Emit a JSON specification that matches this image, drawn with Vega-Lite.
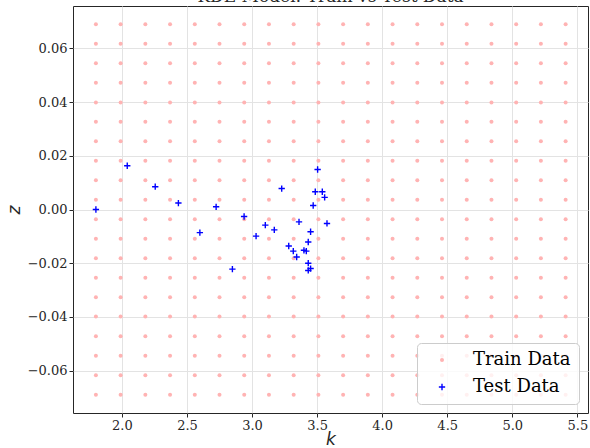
{
  "$schema": "https://vega.github.io/schema/vega-lite/v6.json",
  "width": 515,
  "height": 407,
  "autosize": {"type": "none"},
  "padding": {"left": 73, "top": 6, "right": 2, "bottom": 35},
  "background": "white",
  "title": {
    "text": "KDE Model: Train vs Test Data",
    "font": "DejaVu Serif",
    "fontSize": 17,
    "fontWeight": "normal",
    "color": "#262626",
    "anchor": "middle",
    "offset": 0
  },
  "config": {
    "view": {"stroke": "#262626", "strokeWidth": 1},
    "axis": {
      "titleFont": "DejaVu Sans",
      "titleFontStyle": "italic",
      "titleFontWeight": "normal",
      "titleFontSize": 17,
      "titleColor": "#262626",
      "domain": false,
      "tickColor": "#262626",
      "tickSize": 4,
      "labelPadding": 2,
      "gridColor": "#e3e3e3",
      "gridWidth": 1
    },
    "legend": {
      "orient": "bottom-right",
      "offset": 9,
      "padding": 8,
      "fillColor": "rgba(255,255,255,0.8)",
      "strokeColor": "#cccccc",
      "cornerRadius": 4,
      "labelFont": "DejaVu Serif",
      "labelFontSize": 18,
      "labelColor": "#000000",
      "symbolOffset": 8,
      "labelOffset": 22,
      "rowPadding": 9,
      "title": null
    }
  },
  "data": {
    "values": [
      {"k":1.8,"z":-0.069,"set":"Train Data"},{"k":1.8,"z":-0.0617,"set":"Train Data"},{"k":1.8,"z":-0.0545,"set":"Train Data"},{"k":1.8,"z":-0.0472,"set":"Train Data"},{"k":1.8,"z":-0.0399,"set":"Train Data"},{"k":1.8,"z":-0.0327,"set":"Train Data"},{"k":1.8,"z":-0.0254,"set":"Train Data"},{"k":1.8,"z":-0.0182,"set":"Train Data"},{"k":1.8,"z":-0.0109,"set":"Train Data"},{"k":1.8,"z":-0.0036,"set":"Train Data"},{"k":1.8,"z":0.0036,"set":"Train Data"},{"k":1.8,"z":0.0109,"set":"Train Data"},{"k":1.8,"z":0.0182,"set":"Train Data"},{"k":1.8,"z":0.0254,"set":"Train Data"},{"k":1.8,"z":0.0327,"set":"Train Data"},{"k":1.8,"z":0.0399,"set":"Train Data"},{"k":1.8,"z":0.0472,"set":"Train Data"},{"k":1.8,"z":0.0545,"set":"Train Data"},{"k":1.8,"z":0.0617,"set":"Train Data"},{"k":1.8,"z":0.069,"set":"Train Data"},
      {"k":1.99,"z":-0.069,"set":"Train Data"},{"k":1.99,"z":-0.0617,"set":"Train Data"},{"k":1.99,"z":-0.0545,"set":"Train Data"},{"k":1.99,"z":-0.0472,"set":"Train Data"},{"k":1.99,"z":-0.0399,"set":"Train Data"},{"k":1.99,"z":-0.0327,"set":"Train Data"},{"k":1.99,"z":-0.0254,"set":"Train Data"},{"k":1.99,"z":-0.0182,"set":"Train Data"},{"k":1.99,"z":-0.0109,"set":"Train Data"},{"k":1.99,"z":-0.0036,"set":"Train Data"},{"k":1.99,"z":0.0036,"set":"Train Data"},{"k":1.99,"z":0.0109,"set":"Train Data"},{"k":1.99,"z":0.0182,"set":"Train Data"},{"k":1.99,"z":0.0254,"set":"Train Data"},{"k":1.99,"z":0.0327,"set":"Train Data"},{"k":1.99,"z":0.0399,"set":"Train Data"},{"k":1.99,"z":0.0472,"set":"Train Data"},{"k":1.99,"z":0.0545,"set":"Train Data"},{"k":1.99,"z":0.0617,"set":"Train Data"},{"k":1.99,"z":0.069,"set":"Train Data"},
      {"k":2.18,"z":-0.069,"set":"Train Data"},{"k":2.18,"z":-0.0617,"set":"Train Data"},{"k":2.18,"z":-0.0545,"set":"Train Data"},{"k":2.18,"z":-0.0472,"set":"Train Data"},{"k":2.18,"z":-0.0399,"set":"Train Data"},{"k":2.18,"z":-0.0327,"set":"Train Data"},{"k":2.18,"z":-0.0254,"set":"Train Data"},{"k":2.18,"z":-0.0182,"set":"Train Data"},{"k":2.18,"z":-0.0109,"set":"Train Data"},{"k":2.18,"z":-0.0036,"set":"Train Data"},{"k":2.18,"z":0.0036,"set":"Train Data"},{"k":2.18,"z":0.0109,"set":"Train Data"},{"k":2.18,"z":0.0182,"set":"Train Data"},{"k":2.18,"z":0.0254,"set":"Train Data"},{"k":2.18,"z":0.0327,"set":"Train Data"},{"k":2.18,"z":0.0399,"set":"Train Data"},{"k":2.18,"z":0.0472,"set":"Train Data"},{"k":2.18,"z":0.0545,"set":"Train Data"},{"k":2.18,"z":0.0617,"set":"Train Data"},{"k":2.18,"z":0.069,"set":"Train Data"},
      {"k":2.37,"z":-0.069,"set":"Train Data"},{"k":2.37,"z":-0.0617,"set":"Train Data"},{"k":2.37,"z":-0.0545,"set":"Train Data"},{"k":2.37,"z":-0.0472,"set":"Train Data"},{"k":2.37,"z":-0.0399,"set":"Train Data"},{"k":2.37,"z":-0.0327,"set":"Train Data"},{"k":2.37,"z":-0.0254,"set":"Train Data"},{"k":2.37,"z":-0.0182,"set":"Train Data"},{"k":2.37,"z":-0.0109,"set":"Train Data"},{"k":2.37,"z":-0.0036,"set":"Train Data"},{"k":2.37,"z":0.0036,"set":"Train Data"},{"k":2.37,"z":0.0109,"set":"Train Data"},{"k":2.37,"z":0.0182,"set":"Train Data"},{"k":2.37,"z":0.0254,"set":"Train Data"},{"k":2.37,"z":0.0327,"set":"Train Data"},{"k":2.37,"z":0.0399,"set":"Train Data"},{"k":2.37,"z":0.0472,"set":"Train Data"},{"k":2.37,"z":0.0545,"set":"Train Data"},{"k":2.37,"z":0.0617,"set":"Train Data"},{"k":2.37,"z":0.069,"set":"Train Data"},
      {"k":2.56,"z":-0.069,"set":"Train Data"},{"k":2.56,"z":-0.0617,"set":"Train Data"},{"k":2.56,"z":-0.0545,"set":"Train Data"},{"k":2.56,"z":-0.0472,"set":"Train Data"},{"k":2.56,"z":-0.0399,"set":"Train Data"},{"k":2.56,"z":-0.0327,"set":"Train Data"},{"k":2.56,"z":-0.0254,"set":"Train Data"},{"k":2.56,"z":-0.0182,"set":"Train Data"},{"k":2.56,"z":-0.0109,"set":"Train Data"},{"k":2.56,"z":-0.0036,"set":"Train Data"},{"k":2.56,"z":0.0036,"set":"Train Data"},{"k":2.56,"z":0.0109,"set":"Train Data"},{"k":2.56,"z":0.0182,"set":"Train Data"},{"k":2.56,"z":0.0254,"set":"Train Data"},{"k":2.56,"z":0.0327,"set":"Train Data"},{"k":2.56,"z":0.0399,"set":"Train Data"},{"k":2.56,"z":0.0472,"set":"Train Data"},{"k":2.56,"z":0.0545,"set":"Train Data"},{"k":2.56,"z":0.0617,"set":"Train Data"},{"k":2.56,"z":0.069,"set":"Train Data"},
      {"k":2.75,"z":-0.069,"set":"Train Data"},{"k":2.75,"z":-0.0617,"set":"Train Data"},{"k":2.75,"z":-0.0545,"set":"Train Data"},{"k":2.75,"z":-0.0472,"set":"Train Data"},{"k":2.75,"z":-0.0399,"set":"Train Data"},{"k":2.75,"z":-0.0327,"set":"Train Data"},{"k":2.75,"z":-0.0254,"set":"Train Data"},{"k":2.75,"z":-0.0182,"set":"Train Data"},{"k":2.75,"z":-0.0109,"set":"Train Data"},{"k":2.75,"z":-0.0036,"set":"Train Data"},{"k":2.75,"z":0.0036,"set":"Train Data"},{"k":2.75,"z":0.0109,"set":"Train Data"},{"k":2.75,"z":0.0182,"set":"Train Data"},{"k":2.75,"z":0.0254,"set":"Train Data"},{"k":2.75,"z":0.0327,"set":"Train Data"},{"k":2.75,"z":0.0399,"set":"Train Data"},{"k":2.75,"z":0.0472,"set":"Train Data"},{"k":2.75,"z":0.0545,"set":"Train Data"},{"k":2.75,"z":0.0617,"set":"Train Data"},{"k":2.75,"z":0.069,"set":"Train Data"},
      {"k":2.94,"z":-0.069,"set":"Train Data"},{"k":2.94,"z":-0.0617,"set":"Train Data"},{"k":2.94,"z":-0.0545,"set":"Train Data"},{"k":2.94,"z":-0.0472,"set":"Train Data"},{"k":2.94,"z":-0.0399,"set":"Train Data"},{"k":2.94,"z":-0.0327,"set":"Train Data"},{"k":2.94,"z":-0.0254,"set":"Train Data"},{"k":2.94,"z":-0.0182,"set":"Train Data"},{"k":2.94,"z":-0.0109,"set":"Train Data"},{"k":2.94,"z":-0.0036,"set":"Train Data"},{"k":2.94,"z":0.0036,"set":"Train Data"},{"k":2.94,"z":0.0109,"set":"Train Data"},{"k":2.94,"z":0.0182,"set":"Train Data"},{"k":2.94,"z":0.0254,"set":"Train Data"},{"k":2.94,"z":0.0327,"set":"Train Data"},{"k":2.94,"z":0.0399,"set":"Train Data"},{"k":2.94,"z":0.0472,"set":"Train Data"},{"k":2.94,"z":0.0545,"set":"Train Data"},{"k":2.94,"z":0.0617,"set":"Train Data"},{"k":2.94,"z":0.069,"set":"Train Data"},
      {"k":3.13,"z":-0.069,"set":"Train Data"},{"k":3.13,"z":-0.0617,"set":"Train Data"},{"k":3.13,"z":-0.0545,"set":"Train Data"},{"k":3.13,"z":-0.0472,"set":"Train Data"},{"k":3.13,"z":-0.0399,"set":"Train Data"},{"k":3.13,"z":-0.0327,"set":"Train Data"},{"k":3.13,"z":-0.0254,"set":"Train Data"},{"k":3.13,"z":-0.0182,"set":"Train Data"},{"k":3.13,"z":-0.0109,"set":"Train Data"},{"k":3.13,"z":-0.0036,"set":"Train Data"},{"k":3.13,"z":0.0036,"set":"Train Data"},{"k":3.13,"z":0.0109,"set":"Train Data"},{"k":3.13,"z":0.0182,"set":"Train Data"},{"k":3.13,"z":0.0254,"set":"Train Data"},{"k":3.13,"z":0.0327,"set":"Train Data"},{"k":3.13,"z":0.0399,"set":"Train Data"},{"k":3.13,"z":0.0472,"set":"Train Data"},{"k":3.13,"z":0.0545,"set":"Train Data"},{"k":3.13,"z":0.0617,"set":"Train Data"},{"k":3.13,"z":0.069,"set":"Train Data"},
      {"k":3.32,"z":-0.069,"set":"Train Data"},{"k":3.32,"z":-0.0617,"set":"Train Data"},{"k":3.32,"z":-0.0545,"set":"Train Data"},{"k":3.32,"z":-0.0472,"set":"Train Data"},{"k":3.32,"z":-0.0399,"set":"Train Data"},{"k":3.32,"z":-0.0327,"set":"Train Data"},{"k":3.32,"z":-0.0254,"set":"Train Data"},{"k":3.32,"z":-0.0182,"set":"Train Data"},{"k":3.32,"z":-0.0109,"set":"Train Data"},{"k":3.32,"z":-0.0036,"set":"Train Data"},{"k":3.32,"z":0.0036,"set":"Train Data"},{"k":3.32,"z":0.0109,"set":"Train Data"},{"k":3.32,"z":0.0182,"set":"Train Data"},{"k":3.32,"z":0.0254,"set":"Train Data"},{"k":3.32,"z":0.0327,"set":"Train Data"},{"k":3.32,"z":0.0399,"set":"Train Data"},{"k":3.32,"z":0.0472,"set":"Train Data"},{"k":3.32,"z":0.0545,"set":"Train Data"},{"k":3.32,"z":0.0617,"set":"Train Data"},{"k":3.32,"z":0.069,"set":"Train Data"},
      {"k":3.51,"z":-0.069,"set":"Train Data"},{"k":3.51,"z":-0.0617,"set":"Train Data"},{"k":3.51,"z":-0.0545,"set":"Train Data"},{"k":3.51,"z":-0.0472,"set":"Train Data"},{"k":3.51,"z":-0.0399,"set":"Train Data"},{"k":3.51,"z":-0.0327,"set":"Train Data"},{"k":3.51,"z":-0.0254,"set":"Train Data"},{"k":3.51,"z":-0.0182,"set":"Train Data"},{"k":3.51,"z":-0.0109,"set":"Train Data"},{"k":3.51,"z":-0.0036,"set":"Train Data"},{"k":3.51,"z":0.0036,"set":"Train Data"},{"k":3.51,"z":0.0109,"set":"Train Data"},{"k":3.51,"z":0.0182,"set":"Train Data"},{"k":3.51,"z":0.0254,"set":"Train Data"},{"k":3.51,"z":0.0327,"set":"Train Data"},{"k":3.51,"z":0.0399,"set":"Train Data"},{"k":3.51,"z":0.0472,"set":"Train Data"},{"k":3.51,"z":0.0545,"set":"Train Data"},{"k":3.51,"z":0.0617,"set":"Train Data"},{"k":3.51,"z":0.069,"set":"Train Data"},
      {"k":3.7,"z":-0.069,"set":"Train Data"},{"k":3.7,"z":-0.0617,"set":"Train Data"},{"k":3.7,"z":-0.0545,"set":"Train Data"},{"k":3.7,"z":-0.0472,"set":"Train Data"},{"k":3.7,"z":-0.0399,"set":"Train Data"},{"k":3.7,"z":-0.0327,"set":"Train Data"},{"k":3.7,"z":-0.0254,"set":"Train Data"},{"k":3.7,"z":-0.0182,"set":"Train Data"},{"k":3.7,"z":-0.0109,"set":"Train Data"},{"k":3.7,"z":-0.0036,"set":"Train Data"},{"k":3.7,"z":0.0036,"set":"Train Data"},{"k":3.7,"z":0.0109,"set":"Train Data"},{"k":3.7,"z":0.0182,"set":"Train Data"},{"k":3.7,"z":0.0254,"set":"Train Data"},{"k":3.7,"z":0.0327,"set":"Train Data"},{"k":3.7,"z":0.0399,"set":"Train Data"},{"k":3.7,"z":0.0472,"set":"Train Data"},{"k":3.7,"z":0.0545,"set":"Train Data"},{"k":3.7,"z":0.0617,"set":"Train Data"},{"k":3.7,"z":0.069,"set":"Train Data"},
      {"k":3.89,"z":-0.069,"set":"Train Data"},{"k":3.89,"z":-0.0617,"set":"Train Data"},{"k":3.89,"z":-0.0545,"set":"Train Data"},{"k":3.89,"z":-0.0472,"set":"Train Data"},{"k":3.89,"z":-0.0399,"set":"Train Data"},{"k":3.89,"z":-0.0327,"set":"Train Data"},{"k":3.89,"z":-0.0254,"set":"Train Data"},{"k":3.89,"z":-0.0182,"set":"Train Data"},{"k":3.89,"z":-0.0109,"set":"Train Data"},{"k":3.89,"z":-0.0036,"set":"Train Data"},{"k":3.89,"z":0.0036,"set":"Train Data"},{"k":3.89,"z":0.0109,"set":"Train Data"},{"k":3.89,"z":0.0182,"set":"Train Data"},{"k":3.89,"z":0.0254,"set":"Train Data"},{"k":3.89,"z":0.0327,"set":"Train Data"},{"k":3.89,"z":0.0399,"set":"Train Data"},{"k":3.89,"z":0.0472,"set":"Train Data"},{"k":3.89,"z":0.0545,"set":"Train Data"},{"k":3.89,"z":0.0617,"set":"Train Data"},{"k":3.89,"z":0.069,"set":"Train Data"},
      {"k":4.08,"z":-0.069,"set":"Train Data"},{"k":4.08,"z":-0.0617,"set":"Train Data"},{"k":4.08,"z":-0.0545,"set":"Train Data"},{"k":4.08,"z":-0.0472,"set":"Train Data"},{"k":4.08,"z":-0.0399,"set":"Train Data"},{"k":4.08,"z":-0.0327,"set":"Train Data"},{"k":4.08,"z":-0.0254,"set":"Train Data"},{"k":4.08,"z":-0.0182,"set":"Train Data"},{"k":4.08,"z":-0.0109,"set":"Train Data"},{"k":4.08,"z":-0.0036,"set":"Train Data"},{"k":4.08,"z":0.0036,"set":"Train Data"},{"k":4.08,"z":0.0109,"set":"Train Data"},{"k":4.08,"z":0.0182,"set":"Train Data"},{"k":4.08,"z":0.0254,"set":"Train Data"},{"k":4.08,"z":0.0327,"set":"Train Data"},{"k":4.08,"z":0.0399,"set":"Train Data"},{"k":4.08,"z":0.0472,"set":"Train Data"},{"k":4.08,"z":0.0545,"set":"Train Data"},{"k":4.08,"z":0.0617,"set":"Train Data"},{"k":4.08,"z":0.069,"set":"Train Data"},
      {"k":4.27,"z":-0.069,"set":"Train Data"},{"k":4.27,"z":-0.0617,"set":"Train Data"},{"k":4.27,"z":-0.0545,"set":"Train Data"},{"k":4.27,"z":-0.0472,"set":"Train Data"},{"k":4.27,"z":-0.0399,"set":"Train Data"},{"k":4.27,"z":-0.0327,"set":"Train Data"},{"k":4.27,"z":-0.0254,"set":"Train Data"},{"k":4.27,"z":-0.0182,"set":"Train Data"},{"k":4.27,"z":-0.0109,"set":"Train Data"},{"k":4.27,"z":-0.0036,"set":"Train Data"},{"k":4.27,"z":0.0036,"set":"Train Data"},{"k":4.27,"z":0.0109,"set":"Train Data"},{"k":4.27,"z":0.0182,"set":"Train Data"},{"k":4.27,"z":0.0254,"set":"Train Data"},{"k":4.27,"z":0.0327,"set":"Train Data"},{"k":4.27,"z":0.0399,"set":"Train Data"},{"k":4.27,"z":0.0472,"set":"Train Data"},{"k":4.27,"z":0.0545,"set":"Train Data"},{"k":4.27,"z":0.0617,"set":"Train Data"},{"k":4.27,"z":0.069,"set":"Train Data"},
      {"k":4.46,"z":-0.069,"set":"Train Data"},{"k":4.46,"z":-0.0617,"set":"Train Data"},{"k":4.46,"z":-0.0545,"set":"Train Data"},{"k":4.46,"z":-0.0472,"set":"Train Data"},{"k":4.46,"z":-0.0399,"set":"Train Data"},{"k":4.46,"z":-0.0327,"set":"Train Data"},{"k":4.46,"z":-0.0254,"set":"Train Data"},{"k":4.46,"z":-0.0182,"set":"Train Data"},{"k":4.46,"z":-0.0109,"set":"Train Data"},{"k":4.46,"z":-0.0036,"set":"Train Data"},{"k":4.46,"z":0.0036,"set":"Train Data"},{"k":4.46,"z":0.0109,"set":"Train Data"},{"k":4.46,"z":0.0182,"set":"Train Data"},{"k":4.46,"z":0.0254,"set":"Train Data"},{"k":4.46,"z":0.0327,"set":"Train Data"},{"k":4.46,"z":0.0399,"set":"Train Data"},{"k":4.46,"z":0.0472,"set":"Train Data"},{"k":4.46,"z":0.0545,"set":"Train Data"},{"k":4.46,"z":0.0617,"set":"Train Data"},{"k":4.46,"z":0.069,"set":"Train Data"},
      {"k":4.65,"z":-0.069,"set":"Train Data"},{"k":4.65,"z":-0.0617,"set":"Train Data"},{"k":4.65,"z":-0.0545,"set":"Train Data"},{"k":4.65,"z":-0.0472,"set":"Train Data"},{"k":4.65,"z":-0.0399,"set":"Train Data"},{"k":4.65,"z":-0.0327,"set":"Train Data"},{"k":4.65,"z":-0.0254,"set":"Train Data"},{"k":4.65,"z":-0.0182,"set":"Train Data"},{"k":4.65,"z":-0.0109,"set":"Train Data"},{"k":4.65,"z":-0.0036,"set":"Train Data"},{"k":4.65,"z":0.0036,"set":"Train Data"},{"k":4.65,"z":0.0109,"set":"Train Data"},{"k":4.65,"z":0.0182,"set":"Train Data"},{"k":4.65,"z":0.0254,"set":"Train Data"},{"k":4.65,"z":0.0327,"set":"Train Data"},{"k":4.65,"z":0.0399,"set":"Train Data"},{"k":4.65,"z":0.0472,"set":"Train Data"},{"k":4.65,"z":0.0545,"set":"Train Data"},{"k":4.65,"z":0.0617,"set":"Train Data"},{"k":4.65,"z":0.069,"set":"Train Data"},
      {"k":4.84,"z":-0.069,"set":"Train Data"},{"k":4.84,"z":-0.0617,"set":"Train Data"},{"k":4.84,"z":-0.0545,"set":"Train Data"},{"k":4.84,"z":-0.0472,"set":"Train Data"},{"k":4.84,"z":-0.0399,"set":"Train Data"},{"k":4.84,"z":-0.0327,"set":"Train Data"},{"k":4.84,"z":-0.0254,"set":"Train Data"},{"k":4.84,"z":-0.0182,"set":"Train Data"},{"k":4.84,"z":-0.0109,"set":"Train Data"},{"k":4.84,"z":-0.0036,"set":"Train Data"},{"k":4.84,"z":0.0036,"set":"Train Data"},{"k":4.84,"z":0.0109,"set":"Train Data"},{"k":4.84,"z":0.0182,"set":"Train Data"},{"k":4.84,"z":0.0254,"set":"Train Data"},{"k":4.84,"z":0.0327,"set":"Train Data"},{"k":4.84,"z":0.0399,"set":"Train Data"},{"k":4.84,"z":0.0472,"set":"Train Data"},{"k":4.84,"z":0.0545,"set":"Train Data"},{"k":4.84,"z":0.0617,"set":"Train Data"},{"k":4.84,"z":0.069,"set":"Train Data"},
      {"k":5.03,"z":-0.069,"set":"Train Data"},{"k":5.03,"z":-0.0617,"set":"Train Data"},{"k":5.03,"z":-0.0545,"set":"Train Data"},{"k":5.03,"z":-0.0472,"set":"Train Data"},{"k":5.03,"z":-0.0399,"set":"Train Data"},{"k":5.03,"z":-0.0327,"set":"Train Data"},{"k":5.03,"z":-0.0254,"set":"Train Data"},{"k":5.03,"z":-0.0182,"set":"Train Data"},{"k":5.03,"z":-0.0109,"set":"Train Data"},{"k":5.03,"z":-0.0036,"set":"Train Data"},{"k":5.03,"z":0.0036,"set":"Train Data"},{"k":5.03,"z":0.0109,"set":"Train Data"},{"k":5.03,"z":0.0182,"set":"Train Data"},{"k":5.03,"z":0.0254,"set":"Train Data"},{"k":5.03,"z":0.0327,"set":"Train Data"},{"k":5.03,"z":0.0399,"set":"Train Data"},{"k":5.03,"z":0.0472,"set":"Train Data"},{"k":5.03,"z":0.0545,"set":"Train Data"},{"k":5.03,"z":0.0617,"set":"Train Data"},{"k":5.03,"z":0.069,"set":"Train Data"},
      {"k":5.22,"z":-0.069,"set":"Train Data"},{"k":5.22,"z":-0.0617,"set":"Train Data"},{"k":5.22,"z":-0.0545,"set":"Train Data"},{"k":5.22,"z":-0.0472,"set":"Train Data"},{"k":5.22,"z":-0.0399,"set":"Train Data"},{"k":5.22,"z":-0.0327,"set":"Train Data"},{"k":5.22,"z":-0.0254,"set":"Train Data"},{"k":5.22,"z":-0.0182,"set":"Train Data"},{"k":5.22,"z":-0.0109,"set":"Train Data"},{"k":5.22,"z":-0.0036,"set":"Train Data"},{"k":5.22,"z":0.0036,"set":"Train Data"},{"k":5.22,"z":0.0109,"set":"Train Data"},{"k":5.22,"z":0.0182,"set":"Train Data"},{"k":5.22,"z":0.0254,"set":"Train Data"},{"k":5.22,"z":0.0327,"set":"Train Data"},{"k":5.22,"z":0.0399,"set":"Train Data"},{"k":5.22,"z":0.0472,"set":"Train Data"},{"k":5.22,"z":0.0545,"set":"Train Data"},{"k":5.22,"z":0.0617,"set":"Train Data"},{"k":5.22,"z":0.069,"set":"Train Data"},
      {"k":5.41,"z":-0.069,"set":"Train Data"},{"k":5.41,"z":-0.0617,"set":"Train Data"},{"k":5.41,"z":-0.0545,"set":"Train Data"},{"k":5.41,"z":-0.0472,"set":"Train Data"},{"k":5.41,"z":-0.0399,"set":"Train Data"},{"k":5.41,"z":-0.0327,"set":"Train Data"},{"k":5.41,"z":-0.0254,"set":"Train Data"},{"k":5.41,"z":-0.0182,"set":"Train Data"},{"k":5.41,"z":-0.0109,"set":"Train Data"},{"k":5.41,"z":-0.0036,"set":"Train Data"},{"k":5.41,"z":0.0036,"set":"Train Data"},{"k":5.41,"z":0.0109,"set":"Train Data"},{"k":5.41,"z":0.0182,"set":"Train Data"},{"k":5.41,"z":0.0254,"set":"Train Data"},{"k":5.41,"z":0.0327,"set":"Train Data"},{"k":5.41,"z":0.0399,"set":"Train Data"},{"k":5.41,"z":0.0472,"set":"Train Data"},{"k":5.41,"z":0.0545,"set":"Train Data"},{"k":5.41,"z":0.0617,"set":"Train Data"},{"k":5.41,"z":0.069,"set":"Train Data"},
      {"k":1.8,"z":0.0,"set":"Test Data"},
      {"k":2.041,"z":0.0163,"set":"Test Data"},
      {"k":2.256,"z":0.0085,"set":"Test Data"},
      {"k":2.434,"z":0.0024,"set":"Test Data"},
      {"k":2.599,"z":-0.0086,"set":"Test Data"},
      {"k":2.724,"z":0.001,"set":"Test Data"},
      {"k":2.849,"z":-0.0222,"set":"Test Data"},
      {"k":2.939,"z":-0.0026,"set":"Test Data"},
      {"k":3.031,"z":-0.0099,"set":"Test Data"},
      {"k":3.102,"z":-0.0058,"set":"Test Data"},
      {"k":3.171,"z":-0.0076,"set":"Test Data"},
      {"k":3.228,"z":0.0078,"set":"Test Data"},
      {"k":3.282,"z":-0.0136,"set":"Test Data"},
      {"k":3.317,"z":-0.0155,"set":"Test Data"},
      {"k":3.343,"z":-0.0177,"set":"Test Data"},
      {"k":3.361,"z":-0.0046,"set":"Test Data"},
      {"k":3.399,"z":-0.0152,"set":"Test Data"},
      {"k":3.417,"z":-0.0155,"set":"Test Data"},
      {"k":3.432,"z":-0.0121,"set":"Test Data"},
      {"k":3.432,"z":-0.02,"set":"Test Data"},
      {"k":3.45,"z":-0.0083,"set":"Test Data"},
      {"k":3.432,"z":-0.0227,"set":"Test Data"},
      {"k":3.45,"z":-0.022,"set":"Test Data"},
      {"k":3.47,"z":0.0015,"set":"Test Data"},
      {"k":3.486,"z":0.0066,"set":"Test Data"},
      {"k":3.504,"z":0.0149,"set":"Test Data"},
      {"k":3.54,"z":0.0066,"set":"Test Data"},
      {"k":3.558,"z":0.0045,"set":"Test Data"},
      {"k":3.576,"z":-0.0052,"set":"Test Data"}
    ]
  },
  "mark": {"type": "point", "filled": true, "opacity": 1, "strokeWidth": 0},
  "encoding": {
    "x": {
      "field": "k",
      "type": "quantitative",
      "scale": {"domain": [1.624, 5.582], "nice": false, "zero": false},
      "axis": {
        "values": [2, 2.5, 3, 3.5, 4, 4.5, 5, 5.5],
        "format": ".1f",
        "title": "k",
        "titleX": 257.5,
        "titleY": 31,
        "titleBaseline": "alphabetic",
        "labelFont": {"expr": "'DejaVu Serif'"},
        "labelFontSize": {"expr": "13"},
        "labelColor": "#262626"
      }
    },
    "y": {
      "field": "z",
      "type": "quantitative",
      "scale": {"domain": [-0.0758, 0.0758], "nice": false, "zero": false},
      "axis": {
        "values": [-0.06, -0.04, -0.02, 0, 0.02, 0.04, 0.06],
        "format": ".2f",
        "title": "z",
        "titleX": -54,
        "titleY": 203.5,
        "titleBaseline": "alphabetic",
        "labelFont": {"expr": "'DejaVu Serif'"},
        "labelFontSize": {"expr": "13"},
        "labelColor": "#262626"
      }
    },
    "color": {
      "field": "set",
      "type": "nominal",
      "scale": {"domain": ["Train Data", "Test Data"], "range": ["#ffb3b3", "#0000ff"]}
    },
    "shape": {
      "field": "set",
      "type": "nominal",
      "scale": {"domain": ["Train Data", "Test Data"], "range": ["circle", "M-1,-0.22H-0.22V-1H0.22V-0.22H1V0.22H0.22V1H-0.22V0.22H-1Z"]}
    },
    "size": {
      "field": "set",
      "type": "nominal",
      "scale": {"domain": ["Train Data", "Test Data"], "range": [16, 40]}
    }
  }
}
